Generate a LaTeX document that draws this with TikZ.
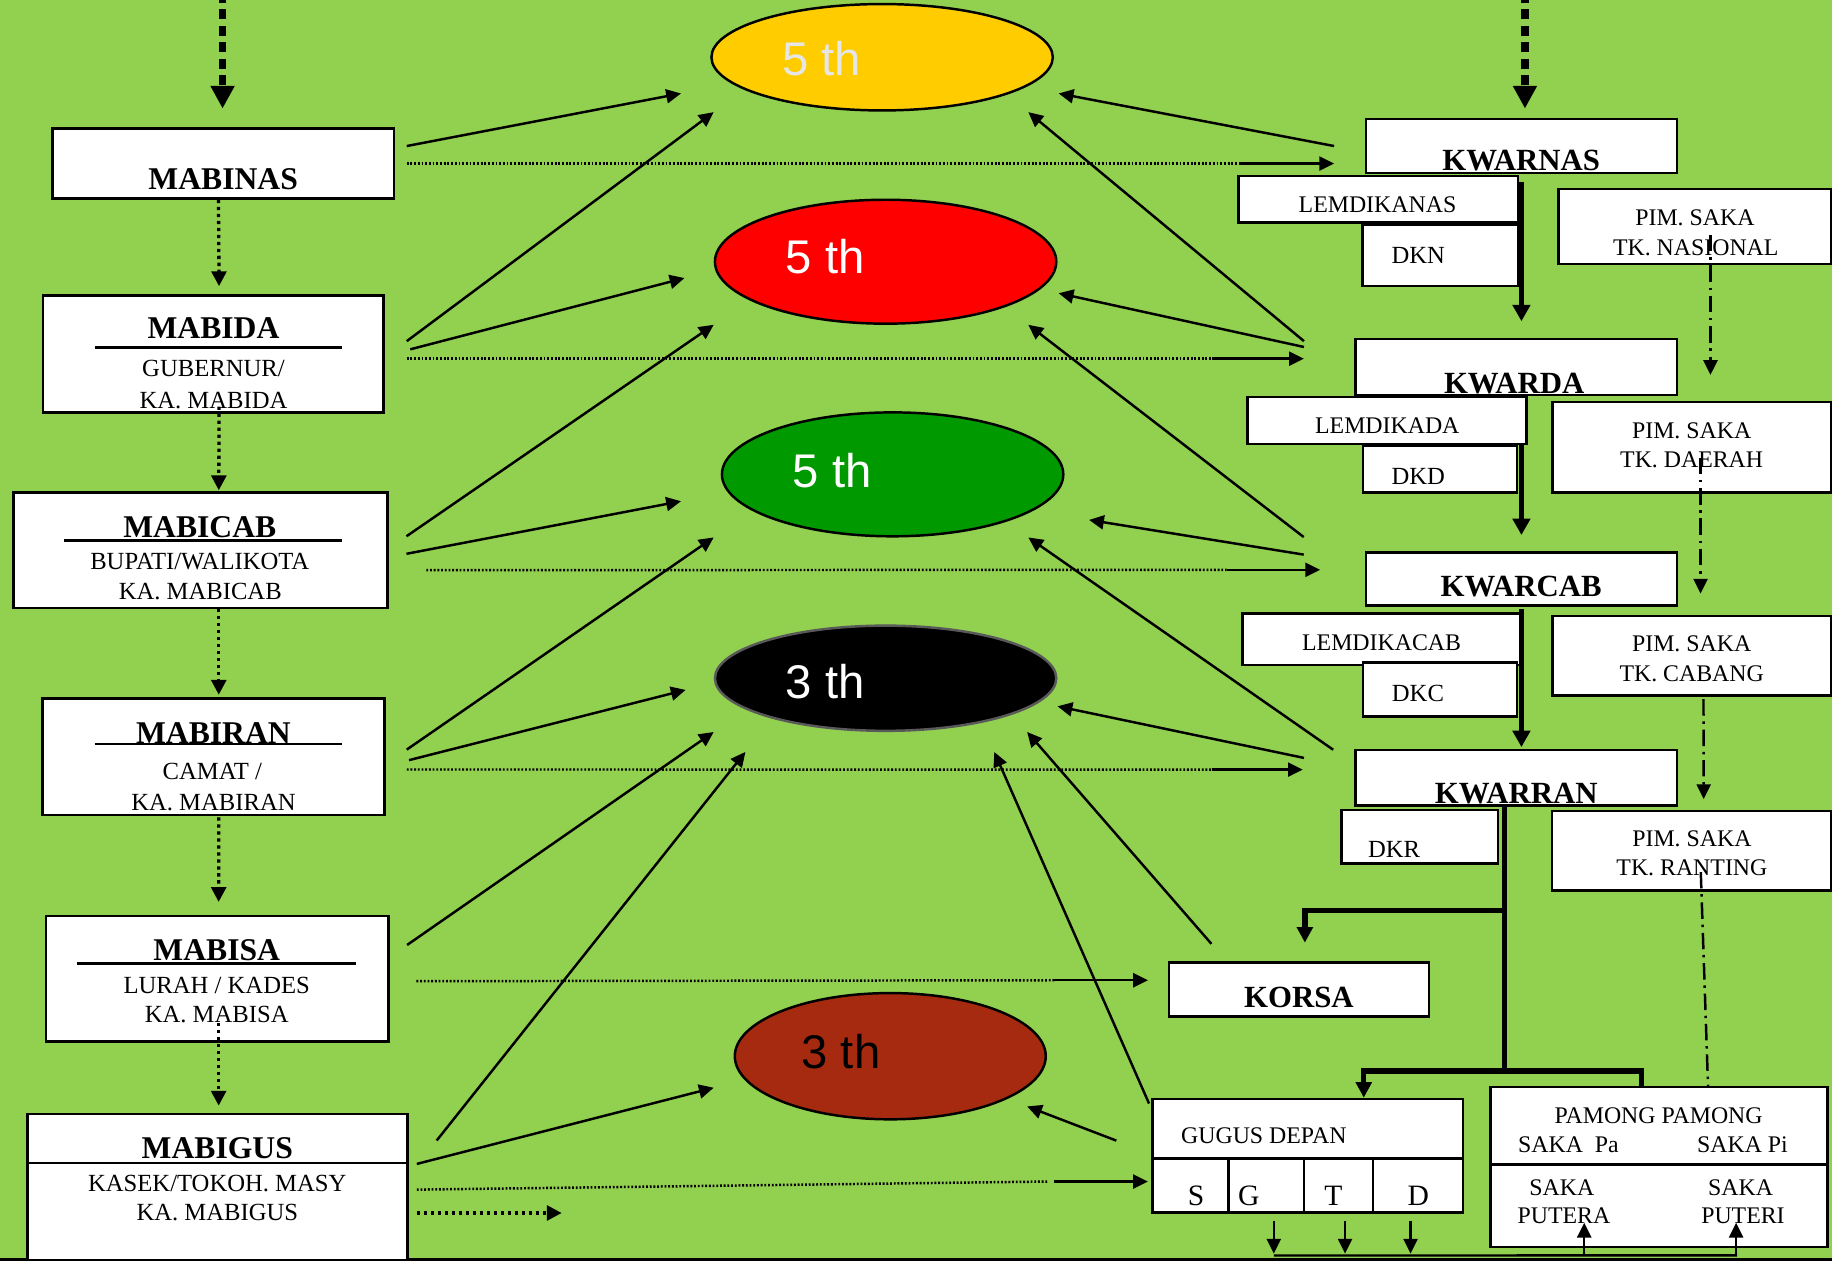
\documentclass[tikz,border=0pt]{standalone}
\usepackage{fontspec}
\setmainfont{Liberation Serif}
\newfontfamily\arialf{Liberation Sans}
\usetikzlibrary{positioning,arrows.meta,shapes.geometric,calc}
\definecolor{bggreen}{RGB}{146,208,80}
\definecolor{ovyellow}{RGB}{255,204,0}
\definecolor{ovred}{RGB}{255,0,0}
\definecolor{ovgreen}{RGB}{0,153,0}
\definecolor{ovbrown}{RGB}{165,42,15}
\definecolor{ovtxt}{RGB}{230,230,230}
\tikzstyle{mbox}=[rectangle, draw=black, fill=white, line width=0.6pt, inner sep=0pt]
\tikzstyle{oval}=[ellipse, draw=black, line width=0.6pt, inner sep=0pt]
\tikzstyle{arr}=[-{Triangle[length=3.6pt,width=3.4pt]}, line width=0.6pt]
\tikzstyle{hdot}=[line width=0.6pt, dash pattern=on 0.45pt off 0.45pt]
\tikzstyle{vdot}=[-{Triangle[length=3.6pt,width=3.6pt]}, line width=0.8pt, dash pattern=on 0.8pt off 0.9pt]
\tikzstyle{tarr}=[-{Triangle[length=4pt,width=4.2pt]}, line width=1.4pt]
\tikzstyle{trunk}=[line width=1.3pt]
\tikzstyle{ddline}=[line width=0.6pt, dash pattern=on 4pt off 1.4pt on 0.6pt off 1.4pt]
\tikzstyle{ddarr}=[ddline, -{Triangle[length=3.6pt,width=3.4pt]}]
\tikzstyle{topdash}=[-{Triangle[length=5.5pt,width=5.5pt]}, line width=1.8pt, dash pattern=on 2.4pt off 1.6pt]
\tikzstyle{ttl}=[inner sep=0pt, anchor=base, font=\fontsize{7.7}{9}\selectfont\bfseries]
\tikzstyle{subt}=[inner sep=0pt, anchor=base, font=\fontsize{6}{7}\selectfont]
\tikzstyle{sml}=[inner sep=0pt, anchor=base, font=\fontsize{5.8}{7}\selectfont]
\tikzstyle{eltxt}=[inner sep=0pt, anchor=base west, font=\arialf\fontsize{11.5}{13}\selectfont]

\begin{document}
\begin{tikzpicture}[x=0.01cm, y=-0.01cm]

\useasboundingbox (0,0) rectangle (1568,1079);
\fill[bggreen] (0,0) rectangle (1568,1079);
\draw[line width=0.6pt] (0,1078) -- (1568,1078);

% left column
\node (MABINAS) [mbox, minimum width=2.92cm, minimum height=0.60cm] at (191,140) {};
\node (MABIDA) [mbox, minimum width=2.91cm, minimum height=1.00cm] at (182.5,303) {};
\node (MABICAB) [mbox, minimum width=3.20cm, minimum height=0.986cm] at (171.75,471) {};
\node (MABIRAN) [mbox, minimum width=2.925cm, minimum height=0.998cm] at (182.75,647.6) {};
\node (MABISA) [mbox, minimum width=2.927cm, minimum height=1.075cm] at (185.95,837.8) {};
\node (MABIGUS) [mbox, minimum width=3.249cm, minimum height=1.256cm] at (186.15,1016.2) {};

% ovals
\node (Y) [oval, fill=ovyellow, minimum width=2.92cm, minimum height=0.91cm] at (755,49) {};
\node (R) [oval, fill=ovred, minimum width=2.92cm, minimum height=1.06cm] at (758,224) {};
\node (G) [oval, fill=ovgreen, minimum width=2.92cm, minimum height=1.06cm] at (764,406) {};
\node (B) [oval, fill=black, draw=black!65, minimum width=2.92cm, minimum height=0.90cm] at (758,580.5) {};
\node (C) [oval, fill=ovbrown, minimum width=2.66cm, minimum height=1.08cm] at (762,904) {};

% right column
\node (KWARNAS) [mbox, minimum width=2.664cm, minimum height=0.46cm] at (1302.2,125) {};
\node (KWARDA) [mbox, minimum width=2.752cm, minimum height=0.48cm] at (1297.8,314) {};
\node (KWARCAB) [mbox, minimum width=2.664cm, minimum height=0.454cm] at (1302.2,495.7) {};
\node (KWARRAN) [mbox, minimum width=2.752cm, minimum height=0.476cm] at (1297.8,665.7) {};

\draw[tarr, shorten >=0.14cm] (KWARCAB.north |- KWARDA.south) -- (KWARCAB.north);

\node (LEMNAS) [mbox, minimum width=2.39cm, minimum height=0.40cm] at (1179.5,170.6) {};
\node (DKN) [mbox, minimum width=1.33cm, minimum height=0.524cm] at (1232.5,218.8) {};
\node (PIMNAS) [mbox, minimum width=2.33cm, minimum height=0.64cm] at (1450.5,194) {};
\node (LEMDA) [mbox, minimum width=2.387cm, minimum height=0.40cm] at (1187.2,360) {};
\node (DKD) [mbox, minimum width=1.32cm, minimum height=0.40cm] at (1232.5,401.7) {};
\node (PIMDA) [mbox, minimum width=2.38cm, minimum height=0.777cm] at (1448,382.8) {};
\node (LEMCAB) [mbox, minimum width=2.387cm, minimum height=0.44cm] at (1182.7,547) {};
\node (DKC) [mbox, minimum width=1.32cm, minimum height=0.462cm] at (1232.5,590.3) {};
\node (PIMCAB) [mbox, minimum width=2.38cm, minimum height=0.682cm] at (1448,561.3) {};
\node (DKR) [mbox, minimum width=1.336cm, minimum height=0.456cm] at (1215.2,716.1) {};
\node (PIMRAN) [mbox, minimum width=2.39cm, minimum height=0.682cm] at (1447.7,728.2) {};
\node (KORSA) [mbox, minimum width=2.225cm, minimum height=0.462cm] at (1111.85,847) {};
\node (GUGUS) [mbox, minimum width=2.653cm, minimum height=0.973cm] at (1119.25,989.25) {};
\node (PAMONG) [mbox, minimum width=2.882cm, minimum height=1.369cm] at (1419.9,999) {};

% inner lines
\draw[line width=0.6pt] (81,297.6) -- (293,297.6);
\draw[line width=0.6pt] (54.8,462.7) -- (293,462.7);
\draw[line width=0.6pt] (81,636.9) -- (293,636.9);
\draw[line width=0.6pt] (66.3,824.5) -- (304.6,824.5);
\draw[line width=0.6pt] ($(MABIGUS.west)+(0,-21)$) -- ($(MABIGUS.east)+(0,-21)$);
\draw[line width=0.6pt] ($(GUGUS.west)+(0,2.4)$) -- ($(GUGUS.east)+(0,2.4)$);
\draw[line width=0.6pt] (1051.3,991.7) -- (1051.3,0 |- GUGUS.south);
\draw[line width=0.6pt] (1116,991.7) -- (1116,0 |- GUGUS.south);
\draw[line width=0.6pt] (1175.2,991.7) -- (1175.2,0 |- GUGUS.south);
\draw[line width=0.6pt] ($(PAMONG.west)+(0,-2.5)$) -- ($(PAMONG.east)+(0,-2.5)$);

% texts left
\node (tMABINAS) [ttl] at (191,162) {MABINAS};
\node (tMABIDA) [ttl] at (182.7,290) {MABIDA};
\node (tGUB) [subt] at (182.7,322) {GUBERNUR/};
\node (tKAMABIDA) [subt] at (182.7,349.5) {KA. MABIDA};
\node (tMABICAB) [ttl] at (171,460) {MABICAB};
\node (tBUP) [subt] at (171,487.8) {BUPATI/WALIKOTA};
\node (tKAMABICAB) [subt] at (171.4,513) {KA. MABICAB};
\node (tMABIRAN) [ttl] at (182.7,636.2) {MABIRAN};
\node (tCAMAT) [subt] at (181.7,667) {CAMAT /};
\node (tKAMABIRAN) [subt] at (182.7,694) {KA. MABIRAN};
\node (tMABISA) [ttl] at (185.5,822.2) {MABISA};
\node (tLURAH) [subt] at (185.5,850.7) {LURAH / KADES};
\node (tKAMABISA) [subt] at (185.5,875.3) {KA. MABISA};
\node (tMABIGUS) [ttl] at (186,991.4) {MABIGUS};
\node (tKASEK) [subt] at (186,1020) {KASEK/TOKOH. MASY};
\node (tKAMABIGUS) [subt] at (186,1045) {KA. MABIGUS};

% texts ovals
\node (tY) [eltxt, text=ovtxt] at ($(Y.center)+(-86,16)$) {5 th};
\node (tR) [eltxt, text=white] at ($(R.center)+(-86,10)$) {5 th};
\node (tG) [eltxt, text=white] at ($(G.center)+(-86,11.6)$) {5 th};
\node (tB) [eltxt, text=white] at ($(B.center)+(-86,17)$) {3 th};
\node (tC) [eltxt, text=black] at ($(C.center)+(-76.6,10.6)$) {3 th};

% texts right
\node (tKWARNAS) [ttl, font=\fontsize{7.5}{9}\selectfont\bfseries] at (1302,146.1) {KWARNAS};
\node (tKWARDA) [ttl, font=\fontsize{7.5}{9}\selectfont\bfseries] at (1296,336.6) {KWARDA};
\node (tKWARCAB) [ttl, font=\fontsize{7.5}{9}\selectfont\bfseries] at (1302,510.7) {KWARCAB};
\node (tKWARRAN) [ttl, font=\fontsize{7.5}{9}\selectfont\bfseries] at (1297.8,688) {KWARRAN};
\node (tLEMNAS) [sml] at (1179,182) {LEMDIKANAS};
\node (tDKN) [subt] at (1213.9,225.4) {DKN};
\node (tPIMNAS1) [sml] at (1450.7,193.4) {PIM. SAKA};
\node (tPIMNAS2) [sml] at (1451.4,218.3) {TK. NASIONAL};
\node (tLEMDA) [sml] at (1187.4,370.9) {LEMDIKADA};
\node (tDKD) [subt] at (1213.9,414.5) {DKD};
\node (tPIMDA1) [sml] at (1447.9,375.7) {PIM. SAKA};
\node (tPIMDA2) [sml] at (1447.9,400.3) {TK. DAERAH};
\node (tLEMCAB) [sml] at (1182.5,556.9) {LEMDIKACAB};
\node (tDKC) [subt] at (1213.6,600.5) {DKC};
\node (tPIMCAB1) [sml] at (1447.9,557.7) {PIM. SAKA};
\node (tPIMCAB2) [sml] at (1447.9,583.4) {TK. CABANG};
\node (tDKR) [subt] at (1193.2,733.8) {DKR};
\node (tPIMRAN1) [sml] at (1448.1,724.6) {PIM. SAKA};
\node (tPIMRAN2) [sml] at (1448.1,749.7) {TK. RANTING};
\node (tKORSA) [ttl, font=\fontsize{7.5}{9}\selectfont\bfseries] at (1111.7,862.2) {KORSA};
\node (tGUGUS) [sml] at (1081.7,979.1) {GUGUS DEPAN};
\node (tS) [subt, font=\fontsize{7.2}{8}\selectfont] at (1023.8,1032.2) {S};
\node (tGg) [subt, font=\fontsize{7.2}{8}\selectfont] at (1068.9,1032.2) {G};
\node (tT) [subt, font=\fontsize{7.2}{8}\selectfont] at (1141.2,1032.2) {T};
\node (tD) [subt, font=\fontsize{7.2}{8}\selectfont] at (1214,1032.2) {D};
\node (tPAMONG) [sml] at (1419.6,961.4) {PAMONG PAMONG};
\node (tSAKAPa) [sml] at (1342.4,986.3) {SAKA~~Pa};
\node (tSAKAPi) [sml] at (1491.4,986.3) {SAKA Pi};
\node (tSAKA1) [sml] at (1336.8,1022.8) {SAKA};
\node (tPUTERA) [sml] at (1338.6,1047) {PUTERA};
\node (tSAKA2) [sml] at (1489.8,1022.8) {SAKA};
\node (tPUTERI) [sml] at (1491.8,1047) {PUTERI};

% top arrows
\draw[topdash] ($(MABINAS.north)+(-0.5,-115)$) -- ($(MABINAS.north)+(-0.5,-16)$);
\draw[topdash] ($(KWARNAS.north)+(3,-107)$) -- ($(KWARNAS.north)+(3,-8)$);

% left chain
\draw[vdot] ($(MABINAS.south)+(-4,0)$) -- ($(MABIDA.north)+(5,-7)$);
\draw[vdot] ($(MABIDA.south)+(5,-6)$) -- ($(MABICAB.north)+(15.5,-1)$);
\draw[vdot] ($(MABICAB.south)+(15.5,0)$) -- ($(MABIRAN.north)+(4.5,-2)$);
\draw[vdot] ($(MABIRAN.south)+(4.5,1)$) -- ($(MABISA.north)+(1.2,-11)$);
\draw[vdot] ($(MABISA.south)+(1.2,-17)$) -- ($(MABIGUS.north)+(1,-6)$);

% left to ovals
\draw[arr] ($(MABINAS.east)+(10,-15)$) -- ($(Y.west)+(-25,31)$);
\draw[arr] ($(MABIDA.east)+(19,-11)$) -- ($(Y.west)+(3,47)$);
\draw[arr] ($(MABIDA.east)+(22,-4)$) -- ($(R.west)+(-25,14)$);
\draw[arr] ($(MABICAB.east)+(15,-12)$) -- ($(R.west)+(0,54)$);
\draw[arr] ($(MABICAB.east)+(15,3)$) -- ($(G.west)+(-34,23)$);
\draw[arr] ($(MABIRAN.east)+(18,-6)$) -- ($(G.west)+(-6,54)$);
\draw[arr] ($(MABIRAN.east)+(20,3)$) -- ($(B.west)+(-24,10)$);
\draw[arr] ($(MABISA.east)+(15,-29)$) -- ($(B.west)+(0,46)$);
\draw[arr] ($(MABIGUS.east)+(24,-40)$) -- ($(B.south)+(-120,17)$);
\draw[arr] ($(MABIGUS.east)+(7,-20)$) -- ($(C.west)+(-17,27)$);

% left to right
\draw[hdot] ($(MABINAS.east)+(10,0)$) -- ($(KWARNAS.west)+(-106,15)$);
\draw[arr] ($(KWARNAS.west)+(-106,15)$) -- ($(KWARNAS.west)+(-26,15)$);
\draw[hdot] ($(MABIDA.east)+(19,4)$) -- ($(KWARDA.west)+(-122,-7)$);
\draw[arr] ($(KWARDA.west)+(-122,-7)$) -- ($(KWARDA.west)+(-43,-7)$);
\draw[hdot] ($(MABICAB.east)+(32,17)$) -- ($(KWARCAB.west)+(-118,-8)$);
\draw[arr] ($(KWARCAB.west)+(-118,-8)$) -- ($(KWARCAB.west)+(-38,-8)$);
\draw[hdot] ($(MABIRAN.east)+(18,11)$) -- ($(KWARRAN.west)+(-122,-7)$);
\draw[arr] ($(KWARRAN.west)+(-122,-7)$) -- ($(KWARRAN.west)+(-44,-7)$);
\draw[hdot] ($(MABISA.east)+(23,2)$) -- ($(KORSA.west)+(-97,-8)$);
\draw[arr] ($(KORSA.west)+(-97,-8)$) -- ($(KORSA.west)+(-17,-8)$);
\draw[hdot] ($(MABIGUS.east)+(7,2)$) -- ($(GUGUS.west)+(-88,22)$);
\draw[arr] ($(GUGUS.west)+(-83,22)$) -- ($(GUGUS.west)+(-3,22)$);
\draw[vdot] ($(MABIGUS.east)+(7,22)$) -- ++(124,0);

% right to ovals
\draw[arr] ($(KWARNAS.west)+(-26,0)$) -- ($(Y.east)+(4,31)$);
\draw[arr] ($(KWARDA.west)+(-43,-22)$) -- ($(Y.east)+(-22,47)$);
\draw[arr] ($(KWARDA.west)+(-43,-17)$) -- ($(R.east)+(1,27)$);
\draw[arr] ($(KWARCAB.west)+(-52,-36)$) -- ($(R.east)+(-25,54)$);
\draw[arr] ($(KWARCAB.west)+(-52,-21)$) -- ($(G.east)+(21,39)$);
\draw[arr] ($(KWARRAN.west)+(-18,-24)$) -- ($(G.east)+(-31,54)$);
\draw[arr] ($(KWARRAN.west)+(-43,-17)$) -- ($(B.east)+(0,24)$);
\draw[arr] ($(KORSA.north)+(-75,-15)$) -- ($(B.east)+(-26,46)$);
\draw[arr] ($(GUGUS.north west)+(-2,5)$) -- ($(B.south)+(93,17)$);
\draw[arr] ($(GUGUS.west)+(-30,-13)$) -- ($(C.east)+(-17,43)$);

% kwartir chain
\draw[tarr, shorten >=0.14cm] ($(KWARNAS.south)+(0,7)$) -- (KWARNAS.south |- KWARDA.north);
\draw[tarr, shorten <=0.02cm, shorten >=0.014cm] (KWARCAB.south) -- (KWARCAB.south |- KWARRAN.north);
\draw[ddarr] ($(PIMNAS.south)+(13.5,-26)$) -- ($(PIMDA.north)+(16,-22)$);
\draw[ddarr] ($(PIMDA.south)+(7.5,-31)$) -- ($(PIMCAB.north)+(7.5,-18)$);
\draw[ddarr] ($(PIMCAB.south)+(10,2)$) -- ($(PIMRAN.north)+(10.5,-9)$);
\draw[ddline] ($(PIMRAN.south)+(8,-17)$) -- ($(PAMONG.north)+(42,0)$);

% kwarran branches
\draw[trunk] ($(KWARRAN.south)+(-10,0)$) -- ($(KWARRAN.south)+(-10,226)$);
\draw[trunk, -{Triangle[length=3.8pt,width=3.8pt]}] ($(KWARRAN.south)+(-10,89)$) -| ($(KORSA.north)+(5,-16)$);
\draw[trunk, -{Triangle[length=3.8pt,width=3.8pt]}] ($(KWARRAN.south)+(-10,226)$) -| ($(GUGUS.north)+(48,0)$);
\draw[trunk] ($(KWARRAN.south)+(-10,226)$) -| ($(PAMONG.north)+(-15,0)$);

% gugus depan to saka
\draw[arr] ($(GUGUS.south)+(-29,6)$) -- ++(0,28);
\draw[arr] ($(GUGUS.south)+(32,6)$) -- ++(0,28);
\draw[arr] ($(GUGUS.south)+(88,6)$) -- ++(0,28);
\draw[line width=0.6pt] ($(GUGUS.south)+(-29,35.6)$) -- ($(PAMONG.south)+(67,6)$);
\draw[arr] ($(PAMONG.south)+(-64,6)$) -- ++(0,-28);
\draw[arr] ($(PAMONG.south)+(66,6)$) -- ++(0,-28);

\end{tikzpicture}
\end{document}
